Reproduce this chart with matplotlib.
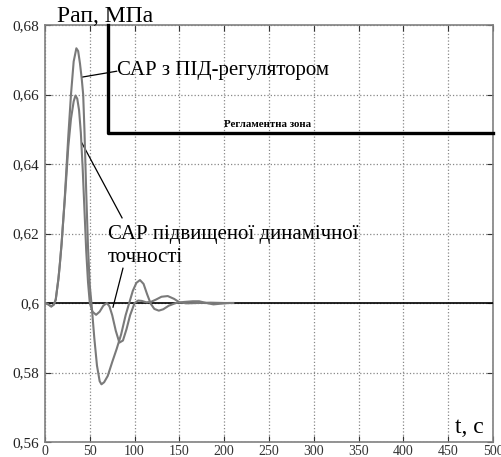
import matplotlib.pyplot as plt

# time, s
t_pid = [0, 3, 7, 10, 12, 13, 14, 15, 16.5, 18.5, 20, 22, 24, 26, 29, 32, 35, 37,
         39, 41, 42.6, 44, 45, 46, 48, 50, 52, 55, 58, 61, 63, 66, 70, 75, 80, 85,
         90, 94, 98, 102, 106, 110, 114, 118, 122, 127, 132, 138, 146, 155, 165,
         172, 180, 188, 196, 205, 210]
p_pid = [0.600, 0.5997, 0.5990, 0.5996, 0.6010, 0.6030, 0.6050, 0.6070, 0.6110,
         0.6170, 0.6225, 0.6300, 0.6390, 0.6480, 0.6600, 0.6695, 0.6733, 0.6725,
         0.6690, 0.6645, 0.6600, 0.6500, 0.6410, 0.6320, 0.6160, 0.6050, 0.5995,
         0.5900, 0.5820, 0.5775, 0.5766, 0.5772, 0.5790, 0.5830, 0.5868, 0.5910,
         0.5965, 0.6000, 0.6035, 0.6058, 0.6066, 0.6055, 0.6025, 0.5998, 0.5983,
         0.5978, 0.5982, 0.5992, 0.6000, 0.6003, 0.6005, 0.6005, 0.6000, 0.5996,
         0.5998, 0.6000, 0.6000]

t_hd = [0, 3, 7, 10, 12, 13, 14, 15, 16.5, 18.5, 20, 22, 24, 26, 29, 32, 34, 36,
        38, 40, 42, 44, 46, 48, 50, 53, 57, 61, 65, 69, 72, 75, 79, 83, 87, 91,
        95, 100, 104, 108, 113, 118, 124, 130, 137, 144, 150, 158, 170, 185, 200,
        210]
p_hd = [0.600, 0.5997, 0.5990, 0.5996, 0.6010, 0.6030, 0.6050, 0.6070, 0.6110,
        0.6170, 0.6225, 0.6295, 0.6370, 0.6450, 0.6530, 0.6580, 0.6597, 0.6588,
        0.6555, 0.6490, 0.6390, 0.6270, 0.6150, 0.6060, 0.6000, 0.5975, 0.5966,
        0.5975, 0.5992, 0.6000, 0.5990, 0.5965, 0.5920, 0.5886, 0.5892, 0.5925,
        0.5965, 0.6000, 0.6007, 0.6006, 0.6002, 0.6003, 0.6010, 0.6018, 0.6020,
        0.6012, 0.6002, 0.5999, 0.6000, 0.6001, 0.6000, 0.6000]

# set point and regulation zone border
t_set = [0, 500]
p_set = [0.6, 0.6]
zone_t = [70, 70, 500]
zone_p = [0.68, 0.649, 0.649]

x_ticks = [0, 50, 100, 150, 200, 250, 300, 350, 400, 450, 500]
y_ticks = [0.56, 0.58, 0.60, 0.62, 0.64, 0.66, 0.68]
y_labels = ["0,56", "0,58", "0,6", "0,62", "0,64", "0,66", "0,68"]

plt.rcParams['font.family'] = ['Liberation Serif', 'DejaVu Serif']

fig = plt.figure(figsize=(5.01, 4.57), dpi=100)
ax = fig.add_axes([45 / 501, 1 - 442 / 457, 448 / 501, 417 / 457])

ax.plot(t_set, p_set, color='black', lw=1.2, zorder=3)
ax.plot(t_pid, p_pid, color='#7a7a7a', lw=1.5, zorder=4)
ax.plot(t_hd, p_hd, color='#7a7a7a', lw=1.5, zorder=4)
ax.plot(zone_t, zone_p, color='black', lw=2.4, zorder=5, clip_on=False)

ax.set_xlim(0, 500)
ax.set_ylim(0.56, 0.68)
ax.set_xticks(x_ticks)
ax.set_xticklabels([str(v) for v in x_ticks], fontsize=10, color='#333333')
ax.set_yticks(y_ticks)
ax.set_yticklabels(y_labels, fontsize=11, color='#222222')
ax.tick_params(direction='in', length=4, top=True, right=True, color='#333333')
ax.tick_params(axis='x', pad=2)
ax.tick_params(axis='y', pad=4)
ax.grid(True, linestyle=':', color='#888888', lw=0.9)
for s in ax.spines.values():
    s.set_color('#808080')
    s.set_linewidth(1.2)

# labels and leaders
ax.text(200, 0.6515, "Регламентна зона", fontsize=7.8, fontweight='bold',
        va='center', ha='left')
ax.text(80.4, 0.667, "САР з ПІД-регулятором", fontsize=15, va='center',
        ha='left')
ax.plot([41.3, 80.0], [0.665, 0.6667], color='black', lw=0.9)
ax.text(70.3, 0.6196, "САР підвищеної динамічної", fontsize=15,
        va='center', ha='left')
ax.text(70.3, 0.6130, "точності", fontsize=15, va='center', ha='left')
ax.plot([41.3, 86.0], [0.646, 0.6245], color='black', lw=0.9)
ax.plot([87.0, 75.9], [0.610, 0.5988], color='black', lw=0.9)

fig.text(57 / 501, 1 - 22 / 457, "Рап, МПа", fontsize=17, va='baseline',
         ha='left')
ax.text(458, 0.5625, "t, с", fontsize=17, va='baseline', ha='left')

fig.savefig("out.png", dpi=100)
